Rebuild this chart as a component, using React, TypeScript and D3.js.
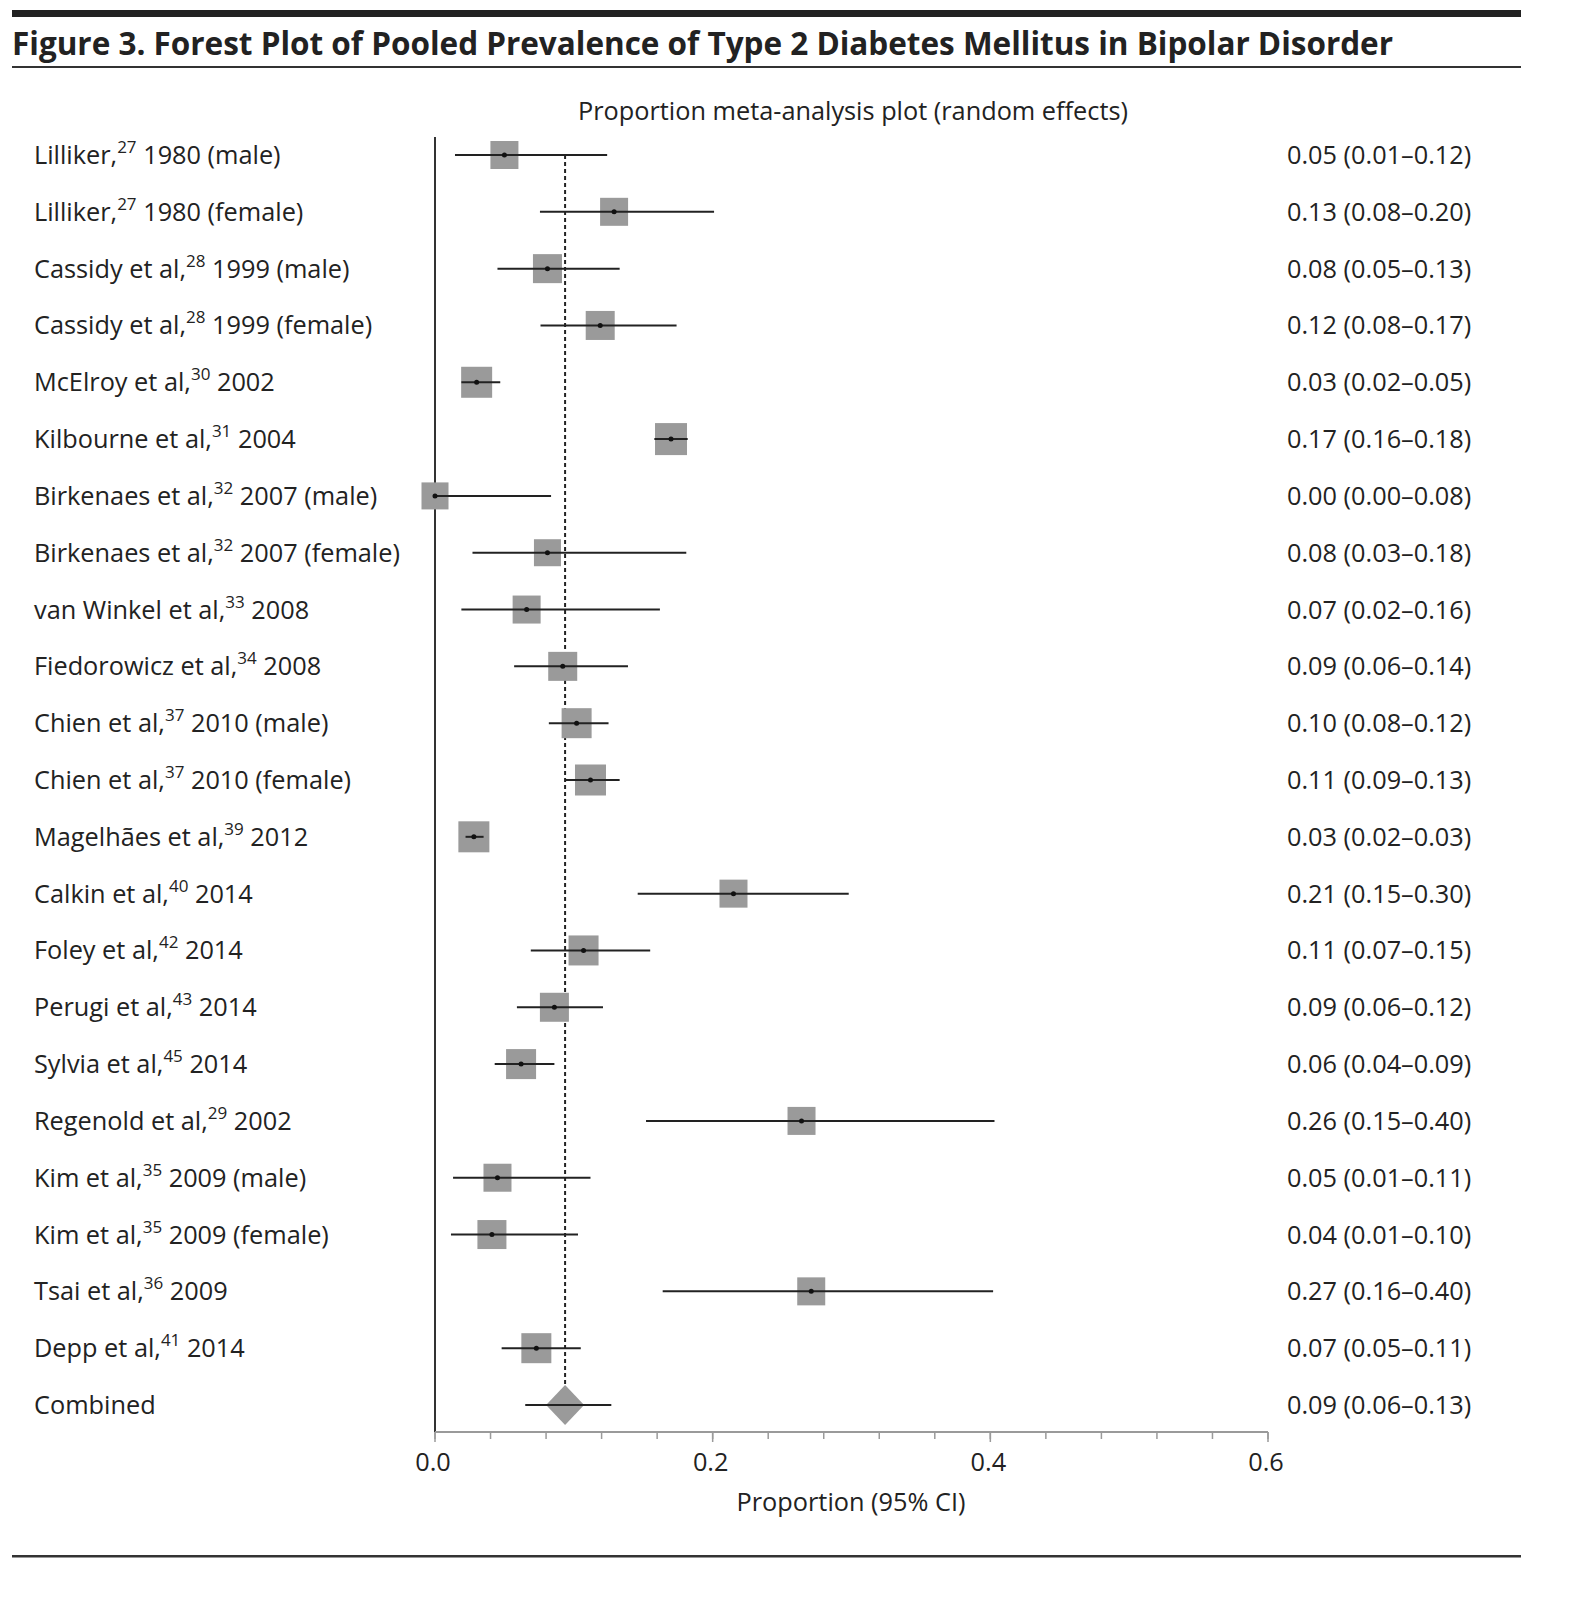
import React from "react";
import * as d3 from "d3";

const names = [
  "Lilliker,", "Lilliker,", "Cassidy et al,", "Cassidy et al,", "McElroy et al,", "Kilbourne et al,",
  "Birkenaes et al,", "Birkenaes et al,", "van Winkel et al,", "Fiedorowicz et al,", "Chien et al,",
  "Chien et al,", "Magelhães et al,", "Calkin et al,", "Foley et al,", "Perugi et al,", "Sylvia et al,",
  "Regenold et al,", "Kim et al,", "Kim et al,", "Tsai et al,", "Depp et al,",
];
const refs = ["27", "27", "28", "28", "30", "31", "32", "32", "33", "34", "37", "37", "39", "40", "42", "43", "45", "29", "35", "35", "36", "41"];
const suffixes = [
  " 1980 (male)", " 1980 (female)", " 1999 (male)", " 1999 (female)", " 2002", " 2004",
  " 2007 (male)", " 2007 (female)", " 2008", " 2008", " 2010 (male)", " 2010 (female)", " 2012",
  " 2014", " 2014", " 2014", " 2014", " 2002", " 2009 (male)", " 2009 (female)", " 2009", " 2014",
];
const estimates = [0.05, 0.129, 0.081, 0.119, 0.03, 0.17, 0.0, 0.081, 0.066, 0.092, 0.102, 0.112, 0.028, 0.215, 0.107, 0.086, 0.062, 0.264, 0.045, 0.041, 0.271, 0.073];
const lowers = [0.0144, 0.0756, 0.045, 0.076, 0.019, 0.158, 0.0, 0.027, 0.019, 0.057, 0.082, 0.094, 0.022, 0.146, 0.069, 0.059, 0.043, 0.152, 0.013, 0.0115, 0.164, 0.048];
const uppers = [0.124, 0.201, 0.133, 0.174, 0.047, 0.182, 0.0836, 0.181, 0.162, 0.139, 0.125, 0.133, 0.035, 0.298, 0.155, 0.121, 0.086, 0.403, 0.112, 0.103, 0.402, 0.105];
const weights = [28, 28, 29, 29, 31, 32, 27, 27, 28, 29, 30, 31, 31, 28, 30, 29, 30, 28, 28, 29, 28, 30];
const ciLabels = [
  "0.05 (0.01–0.12)", "0.13 (0.08–0.20)", "0.08 (0.05–0.13)", "0.12 (0.08–0.17)", "0.03 (0.02–0.05)",
  "0.17 (0.16–0.18)", "0.00 (0.00–0.08)", "0.08 (0.03–0.18)", "0.07 (0.02–0.16)", "0.09 (0.06–0.14)",
  "0.10 (0.08–0.12)", "0.11 (0.09–0.13)", "0.03 (0.02–0.03)", "0.21 (0.15–0.30)", "0.11 (0.07–0.15)",
  "0.09 (0.06–0.12)", "0.06 (0.04–0.09)", "0.26 (0.15–0.40)", "0.05 (0.01–0.11)", "0.04 (0.01–0.10)",
  "0.27 (0.16–0.40)", "0.07 (0.05–0.11)",
];
const combinedLabel = "Combined";
const combined = { est: 0.0937, lo: 0.065, hi: 0.127, text: "0.09 (0.06–0.13)" };
const majorTicks = [0, 0.2, 0.4, 0.6];
const minorTicks = d3.range(0, 0.6001, 0.04);

const FONT = "'Open Sans', 'Noto Sans', sans-serif";
const FS = 25.3;

export default function App() {
  const W = 1569, H = 1610;
  const x = d3.scaleLinear().domain([0, 0.6]).range([435, 1268]);
  const rowKeys = [...names.map((_, i) => String(i)), "combined"];
  const y = d3.scalePoint<string>().domain(rowKeys).range([155, 1405]);
  const axisY = 1432;
  const ink = "#222";
  const boxFill = "#9a9a9a";
  const diamondH = 20;
  const diamondW = 19;
  const cy = y("combined")!;
  const cx = x(combined.est);
  return (
    <svg width={W} height={H} style={{ position: "absolute", left: 0, top: 0, background: "#fff" }} fontFamily={FONT}>
      <rect x={12} y={10} width={1509} height={7} fill="#222" />
      <text x={12} y={55} fontSize={33} fontWeight={700} fill="#222" textLength={1381} lengthAdjust="spacingAndGlyphs">
        Figure 3. Forest Plot of Pooled Prevalence of Type 2 Diabetes Mellitus in Bipolar Disorder
      </text>
      <rect x={12} y={66} width={1509} height={2} fill="#333" />
      <rect x={12} y={1555} width={1509} height={2.5} fill="#333" />

      <text x={853} y={120} fontSize={FS} fill={ink} textAnchor="middle">
        Proportion meta-analysis plot (random effects)
      </text>

      {/* left vertical line at 0 */}
      <line x1={x(0)} x2={x(0)} y1={137} y2={axisY} stroke="#333" strokeWidth={2} />
      {/* pooled estimate dotted line */}
      <line x1={cx} x2={cx} y1={y("0")!} y2={cy - diamondH} stroke="#222" strokeWidth={2} strokeDasharray="4,3" />

      {/* x axis */}
      <line x1={x(0)} x2={x(0.6)} y1={axisY} y2={axisY} stroke="#9a9a9a" strokeWidth={2} />
      {minorTicks.map((t, i) => (
        <line key={"m" + i} x1={x(t)} x2={x(t)} y1={axisY} y2={axisY + 7} stroke="#9a9a9a" strokeWidth={1.5} />
      ))}
      {majorTicks.map((t, i) => (
        <g key={"M" + i}>
          <line x1={x(t)} x2={x(t)} y1={axisY} y2={axisY + 10} stroke="#9a9a9a" strokeWidth={1.5} />
          <text x={x(t) - 2} y={axisY + 39} fontSize={FS} fill={ink} textAnchor="middle">
            {d3.format(".1f")(t)}
          </text>
        </g>
      ))}
      <text x={851} y={1511} fontSize={FS} fill={ink} textAnchor="middle">
        Proportion (95% CI)
      </text>

      {names.map((n, i) => {
        const yy = y(String(i))!;
        const s = weights[i];
        return (
          <g key={i}>
            <text x={34} y={yy + 9} fontSize={FS} fill={ink}>
              {n}
              <tspan fontSize={17} dy={-11}>{refs[i]}</tspan>
              <tspan dy={11}>{suffixes[i]}</tspan>
            </text>
            <rect x={x(estimates[i]) - s / 2} y={yy - s / 2} width={s} height={s} fill={boxFill} />
            <line x1={x(lowers[i])} x2={x(uppers[i])} y1={yy} y2={yy} stroke={ink} strokeWidth={2} />
            <circle cx={x(estimates[i])} cy={yy} r={2.5} fill="#111" />
            <text x={1287} y={yy + 9} fontSize={FS} fill={ink}>
              {ciLabels[i]}
            </text>
          </g>
        );
      })}

      <text x={34} y={cy + 9} fontSize={FS} fill={ink}>{combinedLabel}</text>
      <path
        d={`M${cx},${cy - diamondH}L${cx + diamondW},${cy}L${cx},${cy + diamondH}L${cx - diamondW},${cy}Z`}
        fill={boxFill}
      />
      <line x1={x(combined.lo)} x2={x(combined.hi)} y1={cy} y2={cy} stroke={ink} strokeWidth={2} />
      <text x={1287} y={cy + 9} fontSize={FS} fill={ink}>{combined.text}</text>
    </svg>
  );
}
